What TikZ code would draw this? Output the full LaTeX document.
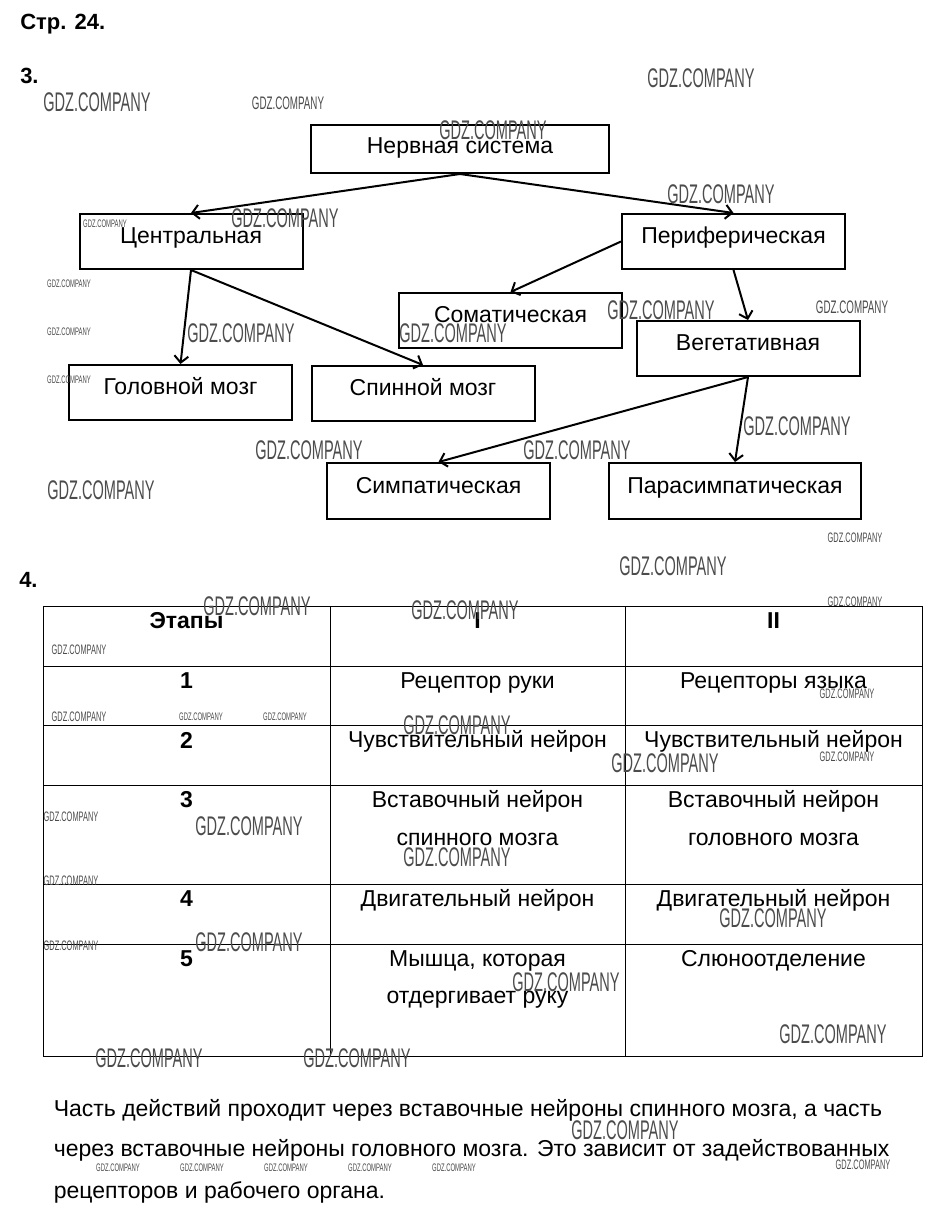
\documentclass[tikz,border=0pt]{standalone}
\usepackage{fontspec}
\setmainfont{Liberation Sans}
\newfontfamily\gdzfont[FakeStretch=0.54]{Liberation Sans}
\usetikzlibrary{arrows.meta}
\tikzset{
	blok/.style = {draw, line width=1.5pt, inner sep=2pt, minimum width=167.25pt, minimum height=41.25pt, font=\fontsize{17.25pt}{20pt}\selectfont, text height=12pt, text depth=9pt},
	strelka/.style = {line width=1.5pt, -{Straight Barb[length=5pt,width=10.5pt]}},
	yach/.style = {anchor=base, inner sep=0pt, font=\fontsize{17.25pt}{20pt}\selectfont},
	zag/.style = {anchor=base, inner sep=0pt, font=\fontsize{17.25pt}{20pt}\selectfont\bfseries},
	nomer/.style = {anchor=base west, inner sep=0pt, font=\fontsize{16.5pt}{20pt}\selectfont\bfseries},
	wmL/.style = {inner sep=0pt, text=black!70, font=\gdzfont\fontsize{20.2pt}{22pt}\selectfont},
	wmM/.style = {inner sep=0pt, text=black!70, font=\gdzfont\fontsize{13.6pt}{15pt}\selectfont},
	wmS/.style = {inner sep=0pt, text=black!70, font=\gdzfont\fontsize{10.3pt}{12pt}\selectfont},
	wmT/.style = {inner sep=0pt, text=black!70, font=\gdzfont\fontsize{8.2pt}{10pt}\selectfont}
}
\begin{document}
\begin{tikzpicture}[x=0.75pt, y=-0.75pt]
	\useasboundingbox [fill=white] (0,0) rectangle (936,1217);
	% headings
	\node [nomer] (str) at (20,29.5) {Стр. 24.};
	\node [nomer] (z3) at (20,83.5) {3.};
	\node [nomer] (z4) at (19,587) {4.};
	% task 3
	\node [blok, minimum width=223.5pt, minimum height=36pt, text height=13pt, text depth=6.5pt] (nerv) at (460,149) {Нервная система};
	\node [blok] (centr) at (191,241.5) {Центральная};
	\node [blok] (periph) at (733.5,241.5) {Периферическая};
	\node [blok] (somat) at (510.5,320.5) {Соматическая};
	\node [blok] (veget) at (748,348.5) {Вегетативная};
	\node [blok] (golov) at (180.5,392.5) {Головной мозг};
	\node [blok] (spinn) at (423,393.5) {Спинной мозг};
	\node [blok, minimum height=42pt] (simpat) at (438.5,491) {Симпатическая};
	\node [blok, minimum width=189pt, minimum height=42pt] (para) at (735,491) {Парасимпатическая};
	\draw [strelka] (nerv.south) -- (centr.north);
	\draw [strelka] (nerv.south) -- (periph.north);
	\draw [strelka] (centr.south) -- (golov.north);
	\draw [strelka] (centr.south) -- (spinn.north);
	\draw [strelka] (periph.west) -- (somat.north);
	\draw [strelka] (periph.south) -- (veget.north);
	\draw [strelka] (veget.south) -- (simpat.north);
	\draw [strelka] (veget.south) -- (para.north);
	% task 4
	\draw [line width=0.75pt] (43,606) rectangle (922,1056);
	\foreach \y in {666,725,785,884,944}
		\draw [line width=0.75pt] (43,\y) -- (922,\y);
	\foreach \x in {330,625}
		\draw [line width=0.75pt] (\x,606) -- (\x,1056);
	\node [zag] (etapy) at (186.5,628) {Этапы};
	\node [zag] (put1) at (477.5,628) {I};
	\node [zag] (put2) at (773.5,628) {II};
	\node [zag] (e1) at (186.5,688) {1};
	\node [zag] (e2) at (186.5,748) {2};
	\node [zag] (e3) at (186.5,807.5) {3};
	\node [zag] (e4) at (186.5,906.5) {4};
	\node [zag] (e5) at (186.5,966) {5};
	\node [yach] (a1) at (477.5,688) {Рецептор руки};
	\node [yach] (a2) at (477.5,747.5) {Чувствительный нейрон};
	\node [yach] (a3) at (477.5,807) {Вставочный нейрон};
	\node [yach] (a3b) at (477.5,845) {спинного мозга};
	\node [yach] (a4) at (477.5,906.5) {Двигательный нейрон};
	\node [yach] (a5) at (477.5,966) {Мышца, которая};
	\node [yach] (a5b) at (477.5,1003.5) {отдергивает руку};
	\node [yach] (b1) at (773.5,688) {Рецепторы языка};
	\node [yach] (b2) at (773.5,747.5) {Чувствительный нейрон};
	\node [yach] (b3) at (773.5,807) {Вставочный нейрон};
	\node [yach] (b3b) at (773.5,845) {головного мозга};
	\node [yach] (b4) at (773.5,906.5) {Двигательный нейрон};
	\node [yach] (b5) at (773.5,966) {Слюноотделение};
	% answer text
	\node [yach, anchor=base west] (otv1) at (53.5,1116.5) {Часть действий проходит через вставочные нейроны спинного мозга, а часть};
	\node [yach, anchor=base west] (otv2) at (53.5,1156.5) {через вставочные нейроны головного мозга. Это зависит от задействованных};
	\node [yach, anchor=base west] (otv3) at (53.5,1198) {рецепторов и рабочего органа.};
	% watermarks
	\foreach \x/\y [count=\i] in {97/102, 701/78, 493/130, 285/218, 721/194, 241/333, 453/333, 661/310, 309/450, 101/490, 577/450, 797/426, 673/566, 257/606, 465/610, 457/725, 665/763, 249/826, 457/857, 773/918, 249/942, 566/982, 833/1034, 149/1058, 357/1058, 625/1130}
		\node [wmL] (wl\i) at (\x,\y) {GDZ.COMPANY};
	\foreach \x/\y [count=\i] in {288/103, 852/307}
		\node [wmM] (wm\i) at (\x,\y) {GDZ.COMPANY};
	\foreach \x/\y [count=\i] in {855/538, 855/602, 79/650, 79/717, 847/694, 847/757, 71/817, 71/881, 71/946, 863/1165}
		\node [wmS] (ws\i) at (\x,\y) {GDZ.COMPANY};
	\foreach \x/\y [count=\i] in {105/224, 69/284, 69/332, 69/380, 201/717, 285/717, 118/1168, 202/1168, 286/1168, 370/1168, 454/1168}
		\node [wmT] (wt\i) at (\x,\y) {GDZ.COMPANY};
\end{tikzpicture}
\end{document}
